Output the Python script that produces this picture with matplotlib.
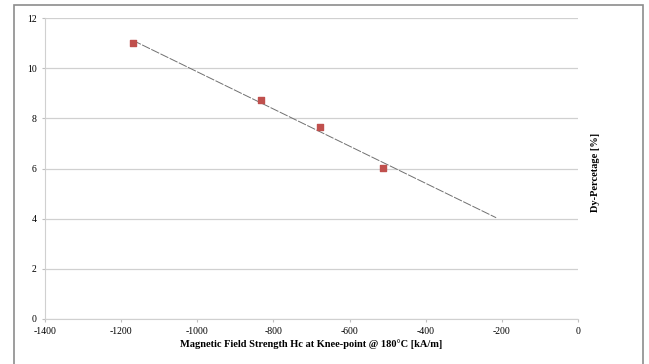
import numpy as np
from matplotlib import pyplot as plt
from matplotlib.patches import Rectangle

# knee-point field strength vs Dy content
field = [-1169, -833, -678, -512]
dy_pct = [11.0, 8.73, 7.67, 6.03]
trend_end = -215

x_ticks = [-1400, -1200, -1000, -800, -600, -400, -200, 0]
y_ticks = [0, 2, 4, 6, 8, 10, 12]

plt.rcParams['font.family'] = ['Liberation Serif', 'DejaVu Serif']
plt.rcParams['axes.unicode_minus'] = False

fig = plt.figure(figsize=(6.49, 3.64), dpi=100)
fig.patches.append(Rectangle((14/649, -0.05), 629/649, 1.05 - 5/364,
                             transform=fig.transFigure, fill=False,
                             edgecolor='#8c8c8c', linewidth=1.2))

ax = fig.add_axes([45/649, 1 - 319/364, 533/649, 301/364])

# linear trendline
slope, icpt = np.polyfit(field, dy_pct, 1)
tx = np.array([min(field), trend_end])
ax.plot(tx, slope*tx + icpt, color='#707070', linewidth=0.7,
        linestyle=(0, (9, 1.5)), zorder=2)

ax.scatter(field, dy_pct, marker='s', s=22, color='#C0504D', zorder=3)

ax.set_xlim(-1400, 0)
ax.set_ylim(0, 12)
ax.set_xticks(x_ticks)
ax.set_yticks(y_ticks)
ax.tick_params(labelsize=7, length=2, color='#bfbfbf', pad=4)
ax.yaxis.grid(True, color='#d0d0d0', linewidth=0.9)
ax.set_axisbelow(True)
for s in ['top', 'right']:
    ax.spines[s].set_visible(False)
for s in ['left', 'bottom']:
    ax.spines[s].set_color('#d0d0d0')

ax.set_xlabel('Magnetic Field Strength Hc at Knee-point @ 180°C [kA/m]',
              fontsize=7.5, fontweight='bold', labelpad=2)
fig.text(595/649, 1 - 172/364, 'Dy-Percetage [%]', rotation=90,
         fontsize=7.5, fontweight='bold', ha='center', va='center')

fig.savefig('out.png', dpi=100)
